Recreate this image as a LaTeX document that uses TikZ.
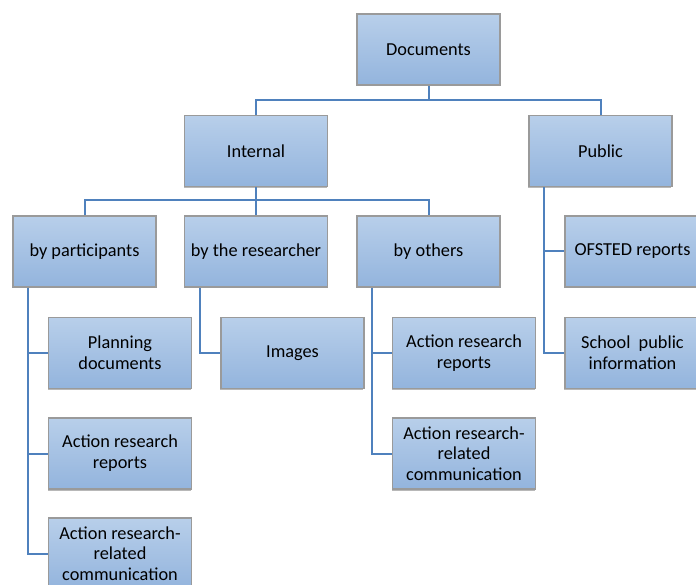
\documentclass[tikz,border=0pt]{standalone}
\usepackage{fontspec}
\setmainfont{Carlito}
\usetikzlibrary{shadows}
\definecolor{linkblue}{HTML}{4F81BD}
\definecolor{boxtop}{HTML}{B8CFEA}
\definecolor{boxbot}{HTML}{93B4DD}
\definecolor{boxedge}{HTML}{9A9A9A}
\tikzset{
  box/.style={rectangle, minimum width=143pt, minimum height=71pt, inner sep=2pt,
    top color=boxtop, bottom color=boxbot, draw=boxedge, line width=1.6pt,
    align=center, font=\fontsize{18.3}{21}\selectfont,
    drop shadow={shadow xshift=-1pt, shadow yshift=-1.5pt, fill=gray!70, opacity=0.8}},
  link/.style={draw=linkblue, line width=2pt}
}
\begin{document}
\begin{tikzpicture}[x=1pt,y=-1pt]
\useasboundingbox (0,0) rectangle (696,585);
\clip (0,0) rectangle (696,585);
% top level
\node[box] (doc) at (428.5,49.5) {Documents};
\node[box] (int) at (256,151) {Internal};
\node[box] (pub) at (600.5,151) {Public};
% internal sources
\node[box] (part) at (84.5,251.5) {by participants};
\node[box] (res) at (256,251.5) {by the researcher};
\node[box] (oth) at (428.5,251.5) {by others};
% public documents
\node[box] (ofs) at (636.5,251.5) {\hspace*{-8pt}OFSTED reports};
\node[box] (sch) at (636.5,353) {\hspace*{-8pt}School\ \ public\\\hspace*{-8pt}information};
% leaves
\node[box] (plan) at (120,353) {Planning\\documents};
\node[box] (img) at (292.5,353) {Images};
\node[box] (oarr) at (464,353) {Action research\\reports};
\node[box] (parr) at (120,453.5) {Action research\\reports};
\node[box, font=\fontsize{18.3}{20.5}\selectfont] (oarc) at (464,453.5) {Action research-\\related\\communication};
\node[box, font=\fontsize{18.3}{20.5}\selectfont] (parc) at (120,553.5) {Action research-\\related\\communication};
% tree connectors
\coordinate (j1) at (428.5,100);
\draw[link] (doc.south) -- (j1);
\draw[link] (int.north) |- (j1) -| (pub.north);
\coordinate (j2) at (256,200.5);
\draw[link] (int.south) -- (j2);
\draw[link] (part.north) |- (j2) -| (oth.north);
\draw[link] (j2) -- (res.north);
% side branches
\draw[link] ([xshift=-56.5pt]part.south) |- (plan.west);
\draw[link] ([xshift=-56.5pt]part.south) |- (parr.west);
\draw[link] ([xshift=-56.5pt]part.south) |- (parc.west);
\draw[link] ([xshift=-56pt]res.south) |- (img.west);
\draw[link] ([xshift=-56.5pt]oth.south) |- (oarr.west);
\draw[link] ([xshift=-56.5pt]oth.south) |- (oarc.west);
\draw[link] ([xshift=-57pt]pub.south) |- (ofs.west);
\draw[link] ([xshift=-57pt]pub.south) |- (sch.west);
\end{tikzpicture}
\end{document}
